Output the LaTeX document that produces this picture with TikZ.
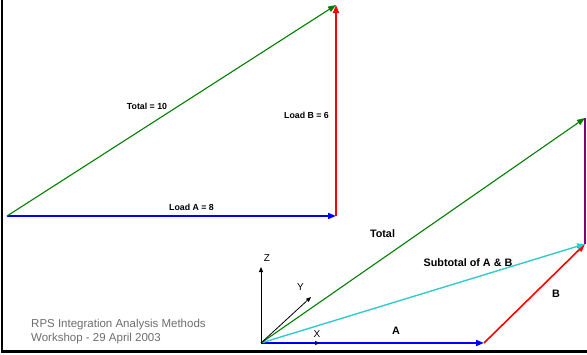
\documentclass[tikz,border=0pt]{standalone}
\usepackage{fontspec}
\setmainfont{Liberation Sans}
\usetikzlibrary{arrows.meta}
\definecolor{vgreen}{RGB}{0,128,0}
\definecolor{vcyan}{RGB}{51,204,204}
\definecolor{vpurple}{RGB}{128,0,128}
\definecolor{vnavy}{RGB}{0,0,128}
\definecolor{foot}{RGB}{110,110,110}
\begin{document}
\begin{tikzpicture}[x=1pt,y=-1pt,
  vec/.style={-{Triangle[length=8pt,width=6pt]}},
  axis/.style={line width=0.8pt,-{Triangle[length=5pt,width=4pt]}},
  lbl/.style={font=\fontsize{8.8}{10}\selectfont\bfseries,inner sep=0pt},
  biglbl/.style={font=\fontsize{10.8}{12}\selectfont\bfseries,inner sep=0pt},
  axlbl/.style={font=\fontsize{10}{11}\selectfont,inner sep=0pt},
  footer/.style={font=\fontsize{11.5}{13}\selectfont,text=foot,inner sep=0pt,anchor=west}]
\useasboundingbox (0,0) rectangle (587,354);
\fill[white] (0,0) rectangle (587,354);
% frame
\draw[line width=2.8pt] (2,0) -- (2,351.7) -- (587,351.7);
% top diagram
\coordinate (o1) at (7,216);
\coordinate (a1) at (336,216);
\coordinate (t1) at (336,5);
\draw[blue,line width=1.8pt,vec] (o1) -- (a1);
\draw[red,line width=1.8pt,vec] (a1) -- (t1);
\draw[vgreen,line width=1.1pt,vec] (o1) -- (t1);
\node[lbl] (ltot) at (147,106) {Total = 10};
\node[lbl] (lb) at (306.5,115) {Load B = 6};
\node[lbl] (la) at (191.5,207.5) {Load A = 8};
% bottom diagram
\coordinate (o) at (261,343);
\coordinate (pa) at (484,343);
\coordinate (pb) at (585,244);
\coordinate (pt) at (585,118);
\coordinate (az) at (261,267);
\coordinate (ay) at (311,297);
\coordinate (ax) at (320,343);
\draw[vpurple,line width=1.8pt] (pb) -- (pt);
\draw[blue,line width=1.8pt,vec] (o) -- (pa);
\draw[red,line width=1.6pt,vec] (pa) -- (pb);
\draw[vcyan,line width=1.4pt,vec] (o) -- (pb);
\draw[vgreen,line width=1.1pt,vec] (o) -- (pt);
\draw[axis] (o) -- (az);
\draw[axis] (o) -- (ay);
\draw[axis,vnavy] (o) -- (ax);
\node[axlbl] (lz) at (267,258) {Z};
\node[axlbl] (ly) at (300.5,287.5) {Y};
\node[axlbl] (lx) at (317,334) {X};
\node[biglbl] (lA) at (396,331) {A};
\node[biglbl] (lB) at (556,294) {B};
\node[biglbl] (lT) at (382.5,234) {Total};
\node[biglbl] (lS) at (468,263) {Subtotal of A \& B};
\node[footer] (f1) at (31,324.5) {RPS Integration Analysis Methods};
\node[footer] (f2) at (31,338.5) {Workshop - 29 April 2003};
\end{tikzpicture}
\end{document}
